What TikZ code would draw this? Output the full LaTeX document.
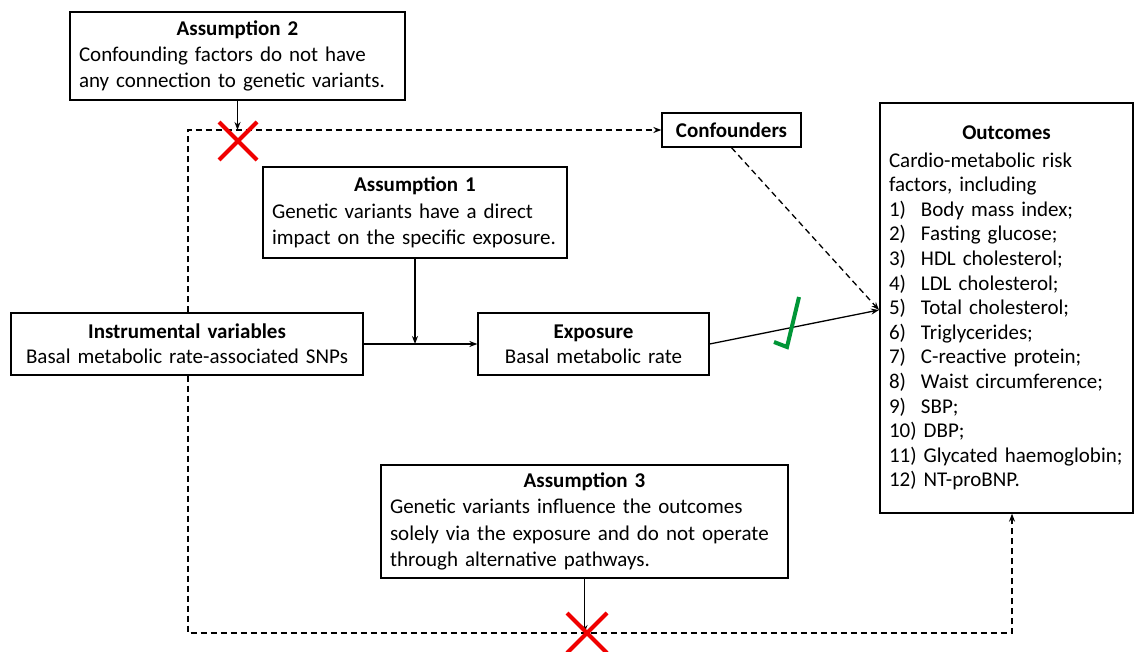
\documentclass[tikz,border=0pt]{standalone}
\usepackage{fontspec}
\setmainfont{Carlito}
\usetikzlibrary{arrows.meta}
\definecolor{crossred}{RGB}{240,0,0}
\definecolor{tickgreen}{RGB}{0,150,55}
\tikzset{
  box/.style={draw, line width=1.3pt, inner xsep=9pt, inner ysep=0pt, align=left,
    font=\fontsize{21}{26.3}\selectfont},
  link/.style={line width=1.3pt, -{Stealth[length=8pt,width=6pt]}},
  dlink/.style={link, dash pattern=on 6pt off 4pt},
  cross/.style={crossred, line width=4pt},
}
\newcommand{\boxhead}[1]{{\centering\bfseries #1\par}}
\newcommand{\itm}[1]{\makebox[32pt][l]{#1}}

\begin{document}
\begin{tikzpicture}[x=1pt,y=-1pt]
\useasboundingbox (0,0) rectangle (1134,652);

% boxes
\node[box, text width=317pt, minimum height=88pt] (a2) at (237.5,56)
  {\boxhead{Assumption 2}Confounding factors do not have\\any connection to genetic variants.};
\node[box, minimum width=139pt, minimum height=34pt, font=\fontsize{21}{25}\selectfont\bfseries] (conf) at (731.5,130) {Confounders};
\node[box, text width=286pt, minimum height=91pt] (a1) at (415,212.5)
  {\boxhead{Assumption 1}Genetic variants have a direct\\impact on the specific exposure.};
\node[box, text width=334pt, minimum height=62pt, align=center, font=\fontsize{21}{25}\selectfont] (iv) at (187,344)
  {\textbf{Instrumental variables}\\Basal metabolic rate-associated SNPs};
\node[box, text width=213pt, minimum height=62pt, align=center, font=\fontsize{21}{25}\selectfont] (exp) at (593.5,344)
  {\textbf{Exposure}\\Basal metabolic rate};
\node[box, text width=389pt, minimum height=113pt] (a3) at (584.5,521.5)
  {\boxhead{Assumption 3}Genetic variants influence the outcomes\\solely via the exposure and do not operate\\through alternative pathways.};
\node[box, text width=235pt, minimum height=410pt, font=\fontsize{21}{24.6}\selectfont] (out) at (1006.5,308)
  {\boxhead{Outcomes}\vspace{3pt}Cardio-metabolic risk\\factors, including\\
   \itm{1)}Body mass index;\\
   \itm{2)}Fasting glucose;\\
   \itm{3)}HDL cholesterol;\\
   \itm{4)}LDL cholesterol;\\
   \itm{5)}Total cholesterol;\\
   \itm{6)}Triglycerides;\\
   \itm{7)}C-reactive protein;\\
   \itm{8)}Waist circumference;\\
   \itm{9)}SBP;\\
   10) DBP;\\
   11) Glycated haemoglobin;\\
   12) NT-proBNP.};

% dashed frame
\coordinate (tl) at (188,130);
\coordinate (bl) at (188,633);
\coordinate (br) at (1012,633);
\coordinate (hit) at (879,310);
\draw[dlink] (iv.north -| tl) -- (tl) -- (conf.west);
\draw[dlink] (iv.south -| tl) -- (bl) -- (br) -- (br |- out.south);
\draw[dlink] (conf.south) -- (hit);

% solid arrows
\draw[link] (a2.south) -- (a2.south |- tl);
\draw[link] (a1.south) -- (a1.south |- iv.east);
\draw[link] (iv.east) -- (exp.west);
\draw[link] (exp.east) -- (hit);
\draw[link] (a3.south) -- (a3.south |- bl);

% marks
\coordinate (x2) at (238,141);
\coordinate (x3) at (587,633);
\draw[cross] (x2) ++(-19,-19) -- ++(38,38) (x2) ++(19,-19) -- ++(-38,38);
\draw[cross] (x3) ++(-20,-20) -- ++(40,40) (x3) ++(20,-20) -- ++(-40,40);
\draw[tickgreen, line width=4pt] (774,342) -- (787,347) -- (799,297);

\end{tikzpicture}
\end{document}
